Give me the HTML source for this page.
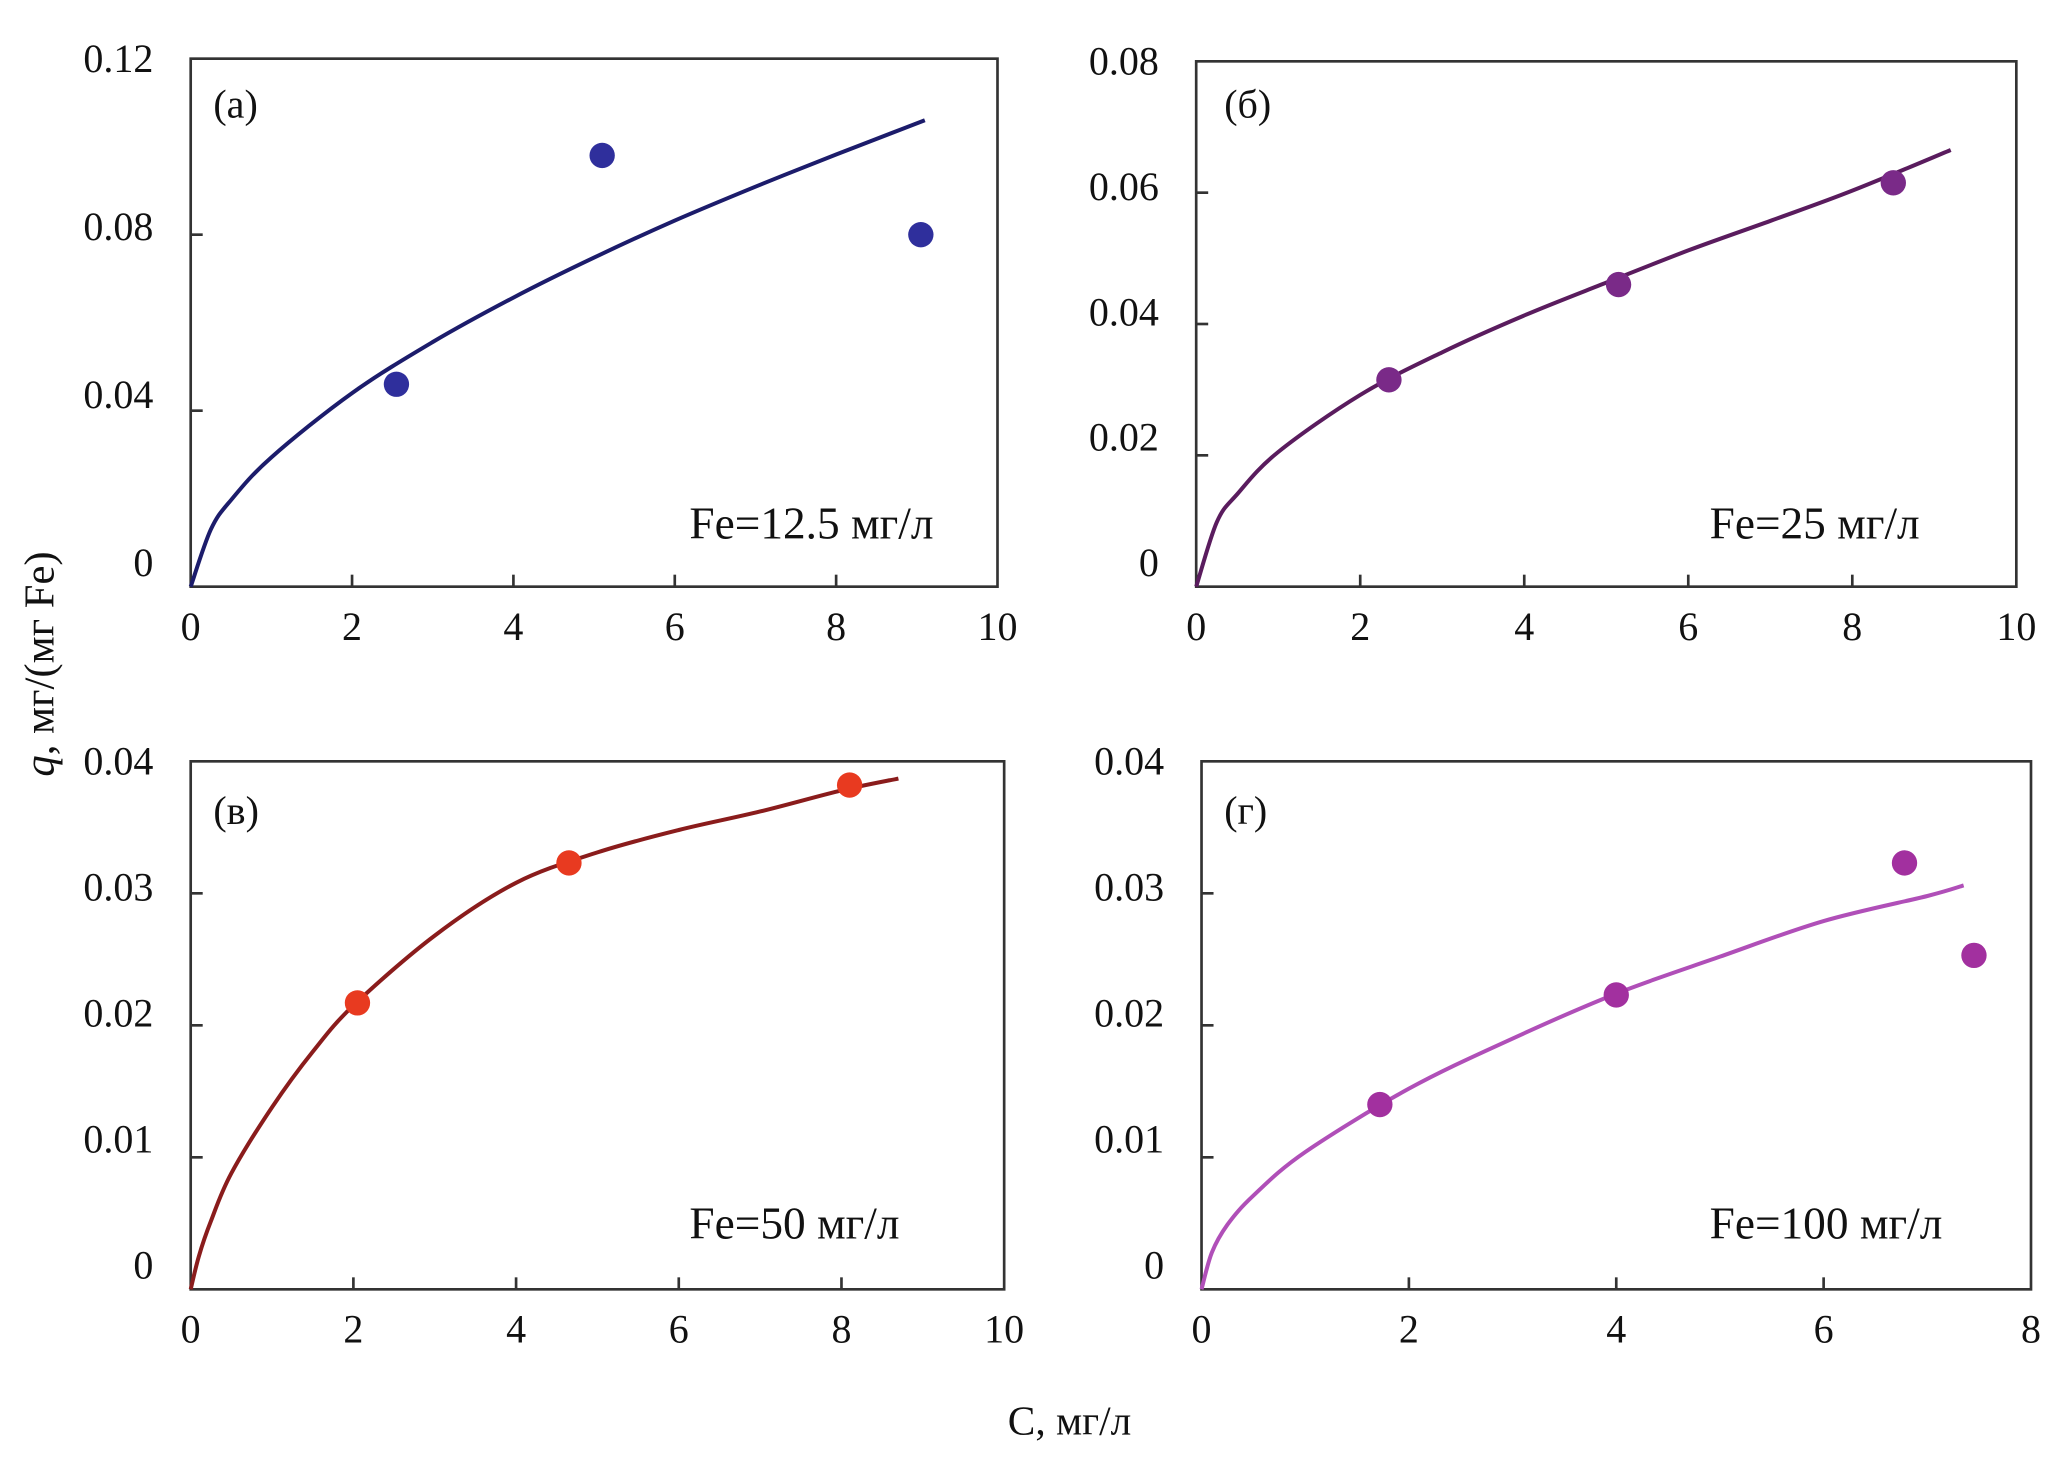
<!DOCTYPE html>
<html><head><meta charset="utf-8"><style>
html,body{margin:0;padding:0;background:#fff;}
svg{display:block;}
text{font-family:"Liberation Serif","Noto Serif CJK SC",serif;fill:#111;}
</style></head><body>
<svg id="chart" width="2067" height="1468" viewBox="0 0 1550 1101" preserveAspectRatio="none" xmlns="http://www.w3.org/2000/svg">
<rect width="1550" height="1101" fill="#fff"/>
<text transform="translate(40,498) rotate(-90)" text-anchor="middle" font-size="32"><tspan font-style="italic">q</tspan>, мг/(мг Fe)</text>
<text x="802" y="1076" text-anchor="middle" font-size="31">C, мг/л</text>
</svg>
<script>
// Panel (a)
const aXTicks = [0, 2, 4, 6, 8, 10];
const aYTicks = [0, 0.04, 0.08, 0.12];
const aYLabels = ["0", "0.04", "0.08", "0.12"];
const aPointsX = [2.55, 5.1, 9.05];
const aPointsY = [0.046, 0.098, 0.080];
const aCurveX = [0, 0.25, 0.5, 1, 2, 3, 4, 5, 6, 7, 8, 9.1];
const aCurveY = [0, 0.013, 0.0197, 0.0294, 0.044, 0.0556, 0.0657, 0.0748, 0.0832, 0.0909, 0.0982, 0.106];
// Panel (б)
const bXTicks = [0, 2, 4, 6, 8, 10];
const bYTicks = [0, 0.02, 0.04, 0.06, 0.08];
const bYLabels = ["0", "0.02", "0.04", "0.06", "0.08"];
const bPointsX = [2.35, 5.15, 8.5];
const bPointsY = [0.0315, 0.046, 0.0615];
const bCurveX = [0, 0.25, 0.5, 1, 2, 3, 4, 5, 6, 7, 8, 9.2];
const bCurveY = [0, 0.0098, 0.0141, 0.0205, 0.0292, 0.0357, 0.0413, 0.0463, 0.0512, 0.0557, 0.0603, 0.0665];
// Panel (в)
const cXTicks = [0, 2, 4, 6, 8, 10];
const cYTicks = [0, 0.01, 0.02, 0.03, 0.04];
const cYLabels = ["0", "0.01", "0.02", "0.03", "0.04"];
const cPointsX = [2.05, 4.65, 8.1];
const cPointsY = [0.0217, 0.0323, 0.0382];
const cCurveX = [0, 0.1, 0.25, 0.5, 1, 1.5, 2, 3, 4, 5, 6, 7, 8, 8.7];
const cCurveY = [0, 0.0025, 0.0052, 0.0088, 0.0138, 0.018, 0.0215, 0.0268, 0.0308, 0.0331, 0.0348, 0.0362, 0.0378, 0.0387];
// Panel (г)
const dXTicks = [0, 2, 4, 6, 8];
const dYTicks = [0, 0.01, 0.02, 0.03, 0.04];
const dYLabels = ["0", "0.01", "0.02", "0.03", "0.04"];
const dPointsX = [1.72, 4.0, 6.78, 7.45];
const dPointsY = [0.014, 0.0223, 0.0323, 0.0253];
const dCurveX = [0, 0.1, 0.25, 0.5, 1, 2, 3, 4, 5, 6, 7, 7.35];
const dCurveY = [0, 0.0028, 0.0049, 0.0071, 0.0104, 0.0152, 0.019, 0.0224, 0.0252, 0.0279, 0.0298, 0.0306];

const NS = "http://www.w3.org/2000/svg";
const svg = document.getElementById('chart');
function mk(tag, attrs, parent) {
  const e = document.createElementNS(NS, tag);
  for (const k in attrs) e.setAttribute(k, attrs[k]);
  (parent || svg).appendChild(e);
  return e;
}
function smoothPath(pts) {
  let d = 'M' + pts[0][0].toFixed(1) + ',' + pts[0][1].toFixed(1);
  for (let i = 0; i < pts.length - 1; i++) {
    const p0 = pts[Math.max(0, i - 1)], p1 = pts[i], p2 = pts[i + 1], p3 = pts[Math.min(pts.length - 1, i + 2)];
    const c1 = [p1[0] + (p2[0] - p0[0]) / 6, p1[1] + (p2[1] - p0[1]) / 6];
    const c2 = [p2[0] - (p3[0] - p1[0]) / 6, p2[1] - (p3[1] - p1[1]) / 6];
    d += ' C' + c1[0].toFixed(1) + ',' + c1[1].toFixed(1) + ' ' + c2[0].toFixed(1) + ',' + c2[1].toFixed(1) + ' ' + p2[0].toFixed(1) + ',' + p2[1].toFixed(1);
  }
  return d;
}

const panels = [
  {id:'a', box:[143,44,748,440], xmax:10, ymax:0.12, xt:aXTicks, yt:aYTicks, yl:aYLabels, px:aPointsX, py:aPointsY, cx:aCurveX, cy:aCurveY, line:'#1c1c6b', pt:'#2f2f9c', tag:'(a)', fe:'Fe=12.5 мг/л', tagPos:[160,88], fePos:[517,404]},
  {id:'b', box:[897,46,1512,440], xmax:10, ymax:0.08, xt:bXTicks, yt:bYTicks, yl:bYLabels, px:bPointsX, py:bPointsY, cx:bCurveX, cy:bCurveY, line:'#5a1c5e', pt:'#7a2a88', tag:'(б)', fe:'Fe=25 мг/л', tagPos:[918,88], fePos:[1282,404]},
  {id:'c', box:[143,571,753,967], xmax:10, ymax:0.04, xt:cXTicks, yt:cYTicks, yl:cYLabels, px:cPointsX, py:cPointsY, cx:cCurveX, cy:cCurveY, line:'#8a1c1c', pt:'#e83a20', tag:'(в)', fe:'Fe=50 мг/л', tagPos:[160,618], fePos:[517,929]},
  {id:'d', box:[901,571,1523,967], xmax:8, ymax:0.04, xt:dXTicks, yt:dYTicks, yl:dYLabels, px:dPointsX, py:dPointsY, cx:dCurveX, cy:dCurveY, line:'#b04fb8', pt:'#a2309f', tag:'(г)', fe:'Fe=100 мг/л', tagPos:[918,618], fePos:[1282,929]}
];

panels.forEach(p => {
  const [L,T,R,B] = p.box;
  const xs = v => L + v / p.xmax * (R - L);
  const ys = v => B - v / p.ymax * (B - T);
  const g = mk('g', {});
  
  
  const frame = mk('rect', {x:L, y:T, width:R-L, height:B-T, fill:'none', stroke:'#333', 'stroke-width':2}, g);
  
  
  p.xt.forEach(v => {
    const x = xs(v);
    if (v > 0 && v < p.xmax) {
      const t = mk('line', {x1:x, x2:x, y1:B, y2:B-9, stroke:'#333', 'stroke-width':2}, g);
      
      
    }
    const lab = mk('text', {x:x, y:B+40, 'text-anchor':'middle', 'font-size':30}, g);
    
    
    lab.textContent = String(v);
  });
  p.yt.forEach((v, i) => {
    const y = ys(v);
    if (v > 0 && v < p.ymax) {
      const t = mk('line', {x1:L, x2:L+9, y1:y, y2:y, stroke:'#333', 'stroke-width':2}, g);
      
      
    }
    const off = -18 * (1 - v / p.ymax);
    const lab = mk('text', {x:L-28, y:y+off+10, 'text-anchor':'end', 'font-size':30}, g);
    
    
    lab.textContent = p.yl[i];
  });
  const pts = p.cx.map((v,i) => [xs(v), ys(p.cy[i])]);
  const path = mk('path', {d:smoothPath(pts), fill:'none', stroke:p.line, 'stroke-width':3, 'stroke-linejoin':'round'}, g);
  
  
  p.px.forEach((v,i) => {
    const c = mk('circle', {cx:xs(v), cy:ys(p.py[i]), r:9.5, fill:p.pt}, g);
    
    
  });
  const tg = mk('text', {x:p.tagPos[0], y:p.tagPos[1], 'font-size':30}, g);
  
  
  tg.textContent = p.tag;
  const fe = mk('text', {x:p.fePos[0], y:p.fePos[1], 'font-size':34}, g);
  
  
  fe.textContent = p.fe;
});
</script>
</body></html>
